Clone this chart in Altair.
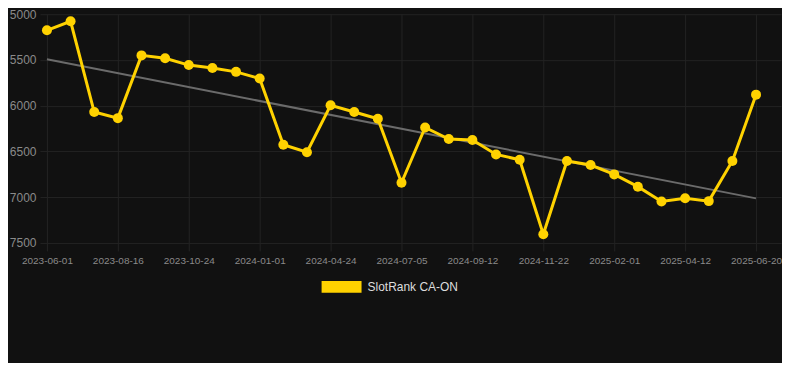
import altair as alt
import pandas as pd

# ---- data ----
dates = [
    "2023-06-01", "2023-06-26", "2023-07-21", "2023-08-16", "2023-09-08", "2023-10-01",
    "2023-10-24", "2023-11-16", "2023-12-09", "2024-01-01", "2024-02-08", "2024-03-17",
    "2024-04-24", "2024-05-18", "2024-06-11", "2024-07-05", "2024-07-28", "2024-08-20",
    "2024-09-12", "2024-10-05", "2024-10-29", "2024-11-22", "2024-12-15", "2025-01-08",
    "2025-02-01", "2025-02-24", "2025-03-19", "2025-04-12", "2025-05-05", "2025-05-28",
    "2025-06-20",
]
ranks = [
    5176, 5077, 6069, 6136, 5450, 5482, 5556, 5587, 5630, 5703,
    6427, 6509, 5995, 6069, 6143, 6843, 6238, 6365, 6375, 6533,
    6590, 7405, 6604, 6649, 6751, 6885, 7047, 7012, 7043, 6604,
    5879,
]
tick_idx = [0, 3, 6, 9, 12, 15, 18, 21, 24, 27, 30]
tick_labels = [
    "2023-06-01", "2023-08-16", "2023-10-24", "2024-01-01", "2024-04-24", "2024-07-05",
    "2024-09-12", "2024-11-22", "2025-02-01", "2025-04-12", "2025-06-20",
]
y_ticks = [5000, 5500, 6000, 6500, 7000, 7500]
series_name = "SlotRank CA-ON"

YELLOW = "#FFD200"
BG = "#111111"
GRID = "#232323"
FONT = "Liberation Sans"

df = pd.DataFrame({
    "idx": list(range(len(dates))),
    "date": dates,
    "rank": ranks,
    "series": [series_name] * len(dates),
})

label_map = "{" + ",".join(f"'{i}':'{l}'" for i, l in zip(tick_idx, tick_labels)) + "}"

x_enc = alt.X(
    "idx:Q",
    scale=alt.Scale(domain=[-0.2958, 31.056], nice=False, zero=False),
    axis=alt.Axis(
        values=tick_idx,
        labelExpr=f"{label_map}[''+datum.value]",
        title=None,
        grid=True,
        gridColor=GRID,
        domain=False,
        tickColor=GRID,
        tickSize=8,
        labelPadding=5,
        labelColor="#8a8a8a",
        labelFontSize=10,
        labelFont=FONT,
    ),
)
y_enc = alt.Y(
    "rank:Q",
    scale=alt.Scale(domain=[5000, 7500], reverse=True, nice=False, zero=False),
    axis=alt.Axis(
        values=y_ticks,
        format="d",
        title=None,
        grid=True,
        gridColor=GRID,
        domain=False,
        ticks=False,
        labelPadding=4,
        labelColor="#8a8a8a",
        labelFontSize=12,
        labelFont=FONT,
        minExtent=32,
        maxExtent=32,
    ),
)

base = alt.Chart(df)

trend = base.transform_regression("idx", "rank", method="linear").mark_line(
    color="#6b6b6b", strokeWidth=2
).encode(x=x_enc, y=y_enc)

line = base.mark_line(color=YELLOW, strokeWidth=3).encode(x=x_enc, y=y_enc)

points = base.mark_point(filled=True, size=100, opacity=1).encode(
    x=x_enc,
    y=y_enc,
    color=alt.Color(
        "series:N",
        scale=alt.Scale(range=[YELLOW]),
        legend=alt.Legend(
            orient="none",
            legendX=282,
            legendY=253,
            title=None,
            padding=0,
            labelColor="#dddddd",
            labelFontSize=12,
            labelFont=FONT,
            labelOffset=6,
            symbolType="M-1,-0.3H1V0.3H-1Z",
            symbolSize=1600,
            symbolStrokeWidth=0,
            symbolOpacity=1,
        ),
    ),
)

chart = (
    alt.layer(trend, line, points)
    .properties(
        width=742,
        height=229,
        background=BG,
        padding={"left": 0, "top": 0, "right": 0, "bottom": 70},
    )
    .configure_view(stroke=None)
)

chart.save("out.html", embed_options={"renderer": "svg", "actions": False})
